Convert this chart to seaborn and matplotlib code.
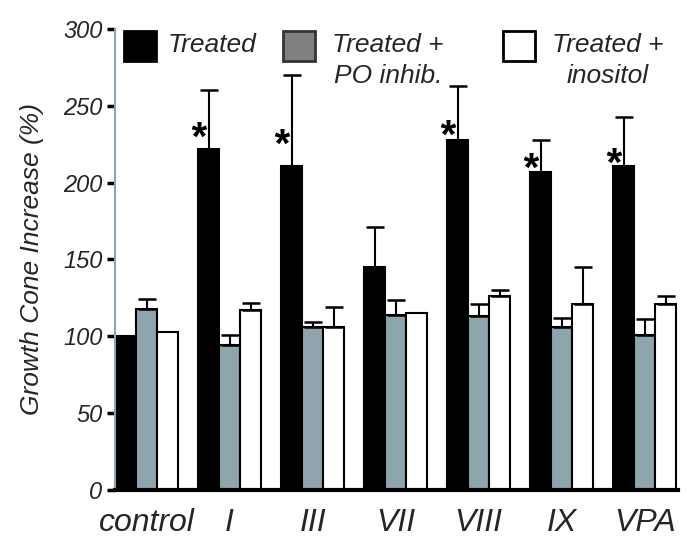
import numpy as np
import pandas as pd
import matplotlib
matplotlib.use("Agg")
import matplotlib.pyplot as plt
import seaborn as sns
from matplotlib.patches import Rectangle

sns.set_theme(style="white")
plt.rcParams["font.family"] = ["Liberation Sans", "DejaVu Sans"]

# ── Data ────────────────────────────────────────────────────────────────
groups = ["control", "I", "III", "VII", "VIII", "IX", "VPA"]
conditions = ["Treated", "Treated + PO inhib.", "Treated + inositol"]

treated = [100, 222, 211, 145, 228, 207, 211]
po_inhib = [118, 94.5, 106, 114, 113, 106, 101]
inositol = [103, 117, 106, 115, 126, 121, 121]

treated_err = [0, 38, 59, 26, 35, 21, 32]
po_inhib_err = [6, 6.5, 3.5, 9.5, 8, 6, 10]
inositol_err = [0, 5, 13, 0, 4, 24, 5]

star_y = [None, 235, 230, None, 236, 215, 218]

yticks = [0, 50, 100, 150, 200, 250, 300]

df = pd.DataFrame({
    "group": groups * 3,
    "condition": np.repeat(conditions, len(groups)),
    "value": treated + po_inhib + inositol,
})
errs = [treated_err, po_inhib_err, inositol_err]

# ── Plot ────────────────────────────────────────────────────────────────
colors = ["#000000", "#8fa5ad", "#ffffff"]
fig = plt.figure(figsize=(6.91, 5.44), dpi=100)
ax = fig.add_axes([0.1664, 0.0993, 0.8146, 0.8474])

sns.barplot(data=df, x="group", y="value", hue="condition", order=groups,
            hue_order=conditions, palette=colors, width=0.76, saturation=1,
            edgecolor="black", linewidth=1.5, legend=False, ax=ax)

for cont, err in zip(ax.containers, errs):
    xs = [p.get_x() + p.get_width() / 2 for p in cont]
    hs = [p.get_height() for p in cont]
    e = np.array(err, dtype=float)
    m = e > 0
    ax.errorbar(np.array(xs)[m], np.array(hs)[m], yerr=[np.zeros(m.sum()), e[m]],
                fmt="none", ecolor="black", elinewidth=1.5, capsize=6.5,
                capthick=1.8, zorder=3)

# asterisks next to the treated bars
for p, sy in zip(ax.containers[0], star_y):
    if sy is not None:
        ax.annotate("*", xy=(p.get_x(), sy), xytext=(-1, -7),
                    textcoords="offset points", ha="center", va="center",
                    fontsize=29, fontweight="bold", fontstyle="italic",
                    color="black", zorder=4)

ax.set_xlim(-0.38, 6.4)
ax.set_ylim(0, 300)
ax.set_yticks(yticks)
ax.set_yticklabels([str(t) for t in yticks], fontstyle="italic", fontsize=17)
ax.set_xticks(range(len(groups)))
ax.set_xticklabels(groups, fontstyle="italic", fontsize=23)
ax.tick_params(axis="y", direction="out", length=6, width=2.5, color="black",
               left=True, pad=3)
ax.tick_params(axis="x", length=0, pad=13)
ax.set_xlabel("")
ax.set_ylabel("Growth Cone Increase (%)", fontstyle="italic", fontsize=19,
              labelpad=14)

for s in ["top", "right"]:
    ax.spines[s].set_visible(False)
ax.spines["left"].set_color("#8fa3b0")
ax.spines["left"].set_linewidth(1.5)
ax.spines["bottom"].set_color("black")
ax.spines["bottom"].set_linewidth(3)

# legend drawn manually as boxes with text
leg = [
    (124, "#000000", "#000000", "Treated", 168, "left"),
    (283, "#808080", "#333333", "Treated +\nPO inhib.", 388, "center"),
    (503, "#ffffff", "#000000", "Treated +\ninositol", 608, "center"),
]
W, H = 691, 544
for x0, fc, ec, label, tx, ha in leg:
    fig.patches.append(Rectangle((x0 / W, 1 - 61 / H), 32 / W, 30 / H,
                                 transform=fig.transFigure, facecolor=fc,
                                 edgecolor=ec, linewidth=2))
    fig.text(tx / W, 1 - 33 / H, label, ha=ha, va="top", fontsize=19,
             fontstyle="italic", linespacing=1.35, multialignment="center")

fig.savefig("out.png", dpi=100)
